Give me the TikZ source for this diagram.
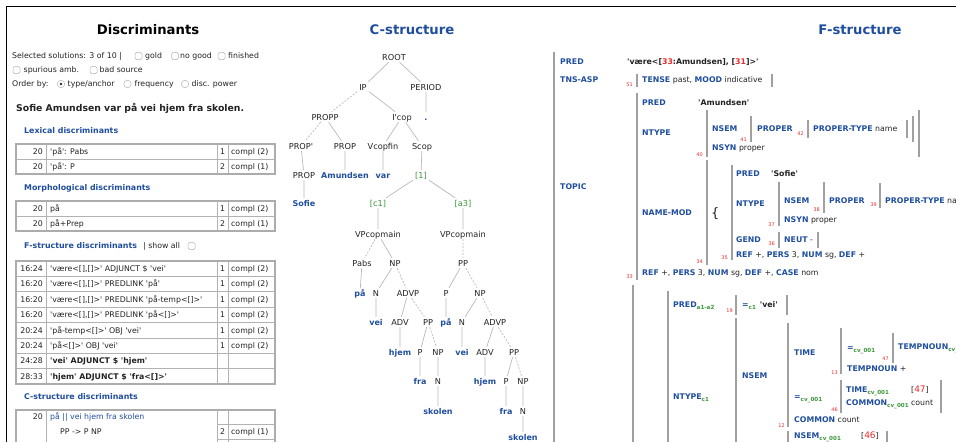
\documentclass[tikz,border=0pt]{standalone}
\usepackage{fontspec}
\usepackage{tikz}
\newfontfamily\dvsans{DejaVu Sans}
\definecolor{lfgblue}{HTML}{1F4E9E}
\definecolor{lfggreen}{HTML}{3A963A}
\definecolor{lfgred}{HTML}{E52B2B}
\definecolor{lfgbar}{HTML}{A0A0A0}
\definecolor{lfgink}{HTML}{222222}
\newcommand{\fa}[1]{{\bfseries\color{lfgblue}#1}}
\newcommand{\fv}[1]{{\bfseries\color{lfgink}#1}}
\newcommand{\fr}[1]{{\color{lfgred}#1}}
\newcommand{\fsub}[1]{\raisebox{-1.6pt}{\fontsize{5.6}{6}\selectfont\bfseries\color{lfggreen}#1}}
\newcommand{\discrow}[6]{%
    \node[num] (#1n) at (43,#2) {#3};
    \node[lbl] (#1t) at (50,#2) {#4};
    \node[lbl, anchor=center] (#1f) at (222.5,#2) {#5};
    \node[lbl] (#1c) at (231,#2) {#6};}
\tikzset{
    lbl/.style={anchor=west, inner sep=0pt, text height=5.6pt, text depth=0pt, text=lfgink, font=\dvsans\fontsize{7.8}{9}\selectfont},
    num/.style={lbl, anchor=east},
    attr/.style={lbl, text=lfgblue, font=\dvsans\bfseries\fontsize{7.8}{9}\selectfont},
    head/.style={lbl, text=lfgblue, font=\dvsans\bfseries\fontsize{7.9}{9}\selectfont},
    title/.style={inner sep=0pt, font=\dvsans\bfseries\fontsize{13.2}{15}\selectfont},
    fid/.style={anchor=base east, inner sep=0pt, text=lfgred, font=\dvsans\fontsize{5}{6}\selectfont},
    fbar/.style={draw=lfgbar, line width=1.3pt},
    tline/.style={draw=gray!60, line width=0.8pt},
    tframe/.style={draw=gray!65, line width=1.4pt},
    chk/.style={draw=gray!60, rounded corners=1.5pt, line width=0.5pt, minimum size=7pt, inner sep=0pt},
    radio/.style={circle, draw=gray!60, line width=0.5pt, minimum size=7.5pt, inner sep=0pt},
    cnode/.style={inner sep=2pt, text height=6pt, text depth=0pt, text=lfgink, font=\dvsans\fontsize{8.2}{10}\selectfont},
    cword/.style={cnode, text=lfgblue, font=\dvsans\bfseries\fontsize{8}{10}\selectfont},
    cidx/.style={cnode, text=lfggreen},
    edge/.style={draw=gray!55, line width=0.7pt},
    dedge/.style={edge, dash pattern=on 2pt off 1.5pt},
}

\begin{document}
\begin{tikzpicture}[x=1pt, y=-1pt]
    \useasboundingbox (0,0) rectangle (956,442);
    \clip (0,0) rectangle (956,442);
    \draw[line width=1.5pt] (6.5,442) -- (6.5,6.5) -- (956,6.5);

    % discriminants
    \node[title] (dtitle) at (148,30) {Discriminants};
    \node[lbl] (selsol) at (12,56) {Selected solutions: 3 of 10 |};
    \node[chk] (cgold) at (138.5,56) {};
    \node[lbl] (tgold) at (145,56) {gold};
    \node[chk] (cnogood) at (175,56) {};
    \node[lbl] (tnogood) at (180,56) {no good};
    \node[chk] (cfin) at (221.5,56) {};
    \node[lbl] (tfin) at (228,56) {finished};
    \node[chk] (cspur) at (16.5,70) {};
    \node[lbl] (tspur) at (23.5,70) {spurious amb.};
    \node[chk] (cbad) at (93.5,70) {};
    \node[lbl] (tbad) at (99.5,70) {bad source};
    \node[lbl] (order) at (12,84) {Order by:};
    \node[radio] (rtype) at (61,84) {};
    \fill[lfgink] (rtype) circle (1.3pt);
    \node[lbl] (ttype) at (67.5,84) {type/anchor};
    \node[radio] (rfreq) at (127.5,84) {};
    \node[lbl] (tfreq) at (134.5,84) {frequency};
    \node[radio] (rdisc) at (185,84) {};
    \node[lbl] (tdisc) at (191.5,84) {disc. power};
    \node[lbl, text height=6.8pt, font=\dvsans\bfseries\fontsize{9.3}{11}\selectfont] (sent) at (16,108) {Sofie Amundsen var på vei hjem fra skolen.};

    \node[head] (hlex) at (24,131) {Lexical discriminants};
    \draw[tline] (16,159) -- (275,159) (46,144) -- (46,174) (217,144) -- (217,174) (228,144) -- (228,174);
    \draw[tframe] (16,144) rectangle (275,174);
    \discrow{lexa}{151.5}{20}{'på': Pabs}{1}{compl (2)}
    \discrow{lexb}{166.5}{20}{'på': P}{2}{compl (1)}

    \node[head] (hmorph) at (24,188) {Morphological discriminants};
    \draw[tline] (16,216) -- (275,216) (46,201) -- (46,231) (217,201) -- (217,231) (228,201) -- (228,231);
    \draw[tframe] (16,201) rectangle (275,231);
    \discrow{moa}{208.5}{20}{på}{1}{compl (2)}
    \discrow{mob}{223.5}{20}{på+Prep}{2}{compl (1)}

    \node[head] (hfs) at (24,246) {F-structure discriminants};
    \node[lbl] (showall) at (143,246) {| show all};
    \node[chk] (cshow) at (191.5,246) {};
    \draw[tline] (16,276.4) -- (275,276.4) (16,291.8) -- (275,291.8) (16,307.1) -- (275,307.1)
        (16,322.5) -- (275,322.5) (16,337.9) -- (275,337.9) (16,353.2) -- (275,353.2) (16,368.6) -- (275,368.6)
        (46,261) -- (46,384) (217,261) -- (217,384) (228,261) -- (228,384);
    \draw[tframe] (16,261) rectangle (275,384);
    \discrow{fsa}{268.7}{16:24}{'være<[],[]>' ADJUNCT \$ 'vei'}{1}{compl (2)}
    \discrow{fsb}{284.1}{16:20}{'være<[],[]>' PREDLINK 'på'}{1}{compl (2)}
    \discrow{fsc}{299.4}{16:20}{'være<[],[]>' PREDLINK 'på-temp<[]>'}{1}{compl (2)}
    \discrow{fsd}{314.8}{16:20}{'være<[],[]>' PREDLINK 'på<[]>'}{1}{compl (2)}
    \discrow{fse}{330.2}{20:24}{'på-temp<[]>' OBJ 'vei'}{1}{compl (2)}
    \discrow{fsf}{345.6}{20:24}{'på<[]>' OBJ 'vei'}{1}{compl (2)}
    \discrow{fsg}{360.9}{24:28}{\textbf{'vei' ADJUNCT \$ 'hjem'}}{}{}
    \discrow{fsh}{376.3}{28:33}{\textbf{'hjem' ADJUNCT \$ 'fra<[]>'}}{}{}

    \node[head] (hcs) at (24,397) {C-structure discriminants};
    \draw[tline] (46,410) -- (46,442) (217,410) -- (217,442) (228,410) -- (228,442)
        (217,424.5) -- (275,424.5) (217,439.5) -- (275,439.5);
    \draw[tframe] (16,442) -- (16,410) -- (275,410) -- (275,442);
    \node[num] (csn) at (43,417) {20};
    \node[lbl, text=lfgblue] (cst) at (50,417) {på || vei hjem fra skolen};
    \node[lbl] (csr) at (60,432) {PP -> P NP};
    \node[lbl, anchor=center] (csf) at (222.5,432) {2};
    \node[lbl] (csc) at (231,432) {compl (1)};

    % c-structure
    \node[title, text=lfgblue] (ctitle) at (412,30) {C-structure};
    \node[cnode] (root) at (394,57) {ROOT};
    \node[cnode] (ip) at (363,87) {IP};
    \node[cnode] (period) at (426,87) {PERIOD};
    \node[cnode] (propp) at (325,117) {PROPP};
    \node[cnode] (icop) at (402,117) {I'cop};
    \node[cword] (dot) at (426,117) {.};
    \node[cnode] (propa) at (301,146) {PROP'};
    \node[cnode] (prop) at (345,146) {PROP};
    \node[cnode] (vcop) at (383,146) {Vcopfin};
    \node[cnode] (scop) at (422,146) {Scop};
    \node[cnode] (propb) at (304,175) {PROP};
    \node[cword] (amund) at (345,175) {Amundsen};
    \node[cword] (var) at (383,175) {var};
    \node[cidx] (one) at (421,175) {[1]};
    \node[cword] (sofie) at (304,203) {Sofie};
    \node[cidx] (ca) at (378,203) {[c1]};
    \node[cidx] (aa) at (463,203) {[a3]};
    \node[cnode] (vpc) at (378,234) {VPcopmain};
    \node[cnode] (vpa) at (463,234) {VPcopmain};
    \node[cnode] (pabs) at (362,263) {Pabs};
    \node[cnode] (npc) at (395,263) {NP};
    \node[cnode] (ppa) at (463,263) {PP};
    \node[cword] (paac) at (360,293) {på};
    \node[cnode] (nc) at (376,293) {N};
    \node[cnode] (advpc) at (408,293) {ADVP};
    \node[cnode] (pa) at (446,293) {P};
    \node[cnode] (npa) at (480,293) {NP};
    \node[cword] (veic) at (376,322) {vei};
    \node[cnode] (advc) at (400,322) {ADV};
    \node[cnode] (ppc) at (428,322) {PP};
    \node[cword] (paaa) at (446,322) {på};
    \node[cnode] (na) at (462,322) {N};
    \node[cnode] (advpa) at (495,322) {ADVP};
    \node[cword] (hjemc) at (400,352) {hjem};
    \node[cnode] (pc) at (420,352) {P};
    \node[cnode] (npcb) at (438,352) {NP};
    \node[cword] (veia) at (462,352) {vei};
    \node[cnode] (adva) at (485,352) {ADV};
    \node[cnode] (ppab) at (514,352) {PP};
    \node[cword] (frac) at (420,381) {fra};
    \node[cnode] (ncb) at (438,381) {N};
    \node[cword] (hjema) at (485,381) {hjem};
    \node[cnode] (pab) at (506,381) {P};
    \node[cnode] (npab) at (523,381) {NP};
    \node[cword] (skolenc) at (438,411) {skolen};
    \node[cword] (fraa) at (506,411) {fra};
    \node[cnode] (nab) at (523,411) {N};
    \node[cword] (skolena) at (523,437) {skolen};

    \draw[edge] (root) -- (ip) (root) -- (period) (ip) -- (icop) (period) -- (dot) (propp) -- (prop)
        (icop) -- (vcop) (icop) -- (scop) (propa) -- (propb) (prop) -- (amund) (vcop) -- (var)
        (scop) -- (one) (propb) -- (sofie) (one) -- (ca) (one) -- (aa) (ca) -- (vpc) (aa) -- (vpa);
    \draw[edge] (vpc) -- (npc) (pabs) -- (paac) (npc) -- (nc) (ppa) -- (pa) (nc) -- (veic)
        (advpc) -- (advc) (pa) -- (paaa) (npa) -- (na) (advc) -- (hjemc) (ppc) -- (pc)
        (na) -- (veia) (advpa) -- (adva) (pc) -- (frac) (npcb) -- (ncb) (adva) -- (hjema)
        (ppab) -- (pab) (ncb) -- (skolenc) (pab) -- (fraa) (npab) -- (nab) (nab) -- (skolena);
    \draw[dedge] (ip) -- (propp) (propp) -- (propa) (vpc) -- (pabs) (vpa) -- (ppa) (npc) -- (advpc)
        (ppa) -- (npa) (advpc) -- (ppc) (npa) -- (advpa) (ppc) -- (npcb) (advpa) -- (ppab) (ppab) -- (npab);

    % f-structure
    \node[title, text=lfgblue] (ftitle) at (860,30) {F-structure};
    \draw[fbar] (554,52) -- (554,442);
    \node[attr] (fpred) at (560,62) {PRED};
    \node[lbl] (fpredv) at (627,62) {\fv{'være<[\fr{33}:Amundsen], [\fr{31}]>'}};
    \node[attr] (ftns) at (560,80) {TNS-ASP};
    \node[fid] (id51) at (633,86) {51};
    \draw[fbar] (637,74) -- (637,87) (772,74) -- (772,87);
    \node[lbl] (ftense) at (642,80) {\fa{TENSE} past, \fa{MOOD} indicative};
    \node[attr] (ftopic) at (560,187) {TOPIC};
    \draw[fbar] (637,93) -- (637,280);
    \node[fid] (id33) at (633,278) {33};
    \node[attr] (tpred) at (642,103) {PRED};
    \node[lbl] (tpredv) at (698,103) {\fv{'Amundsen'}};
    \node[attr] (tntype) at (642,133) {NTYPE};
    \draw[fbar] (707,110) -- (707,157) (919,110) -- (919,157);
    \node[fid] (id40) at (703,156) {40};
    \node[attr] (tnsem) at (712,129) {NSEM};
    \draw[fbar] (751,116) -- (751,142) (913,116) -- (913,142);
    \node[fid] (id41) at (747,141) {41};
    \node[attr] (tproper) at (757,129) {PROPER};
    \node[fid] (id42) at (804,135) {42};
    \draw[fbar] (808,120) -- (808,138) (907,120) -- (907,138);
    \node[lbl] (tptype) at (813,129) {\fa{PROPER-TYPE} name};
    \node[lbl] (tnsyn) at (712,148) {\fa{NSYN} proper};
    \node[attr] (tnmod) at (642,213) {NAME-MOD};
    \draw[fbar] (707,160) -- (707,265);
    \node[fid] (id34) at (703,263) {34};
    \node[lbl, text height=9pt, font=\dvsans\fontsize{13}{14}\selectfont] (brace) at (711,213) {\{};
    \draw[fbar] (732,165) -- (732,260);
    \node[fid] (id35) at (728,259) {35};
    \node[attr] (spred) at (736,174) {PRED};
    \node[lbl] (spredv) at (771,174) {\fv{'Sofie'}};
    \node[attr] (sntype) at (736,204) {NTYPE};
    \draw[fbar] (779,182) -- (779,226);
    \node[fid] (id37) at (775,226) {37};
    \node[attr] (snsem) at (784,201) {NSEM};
    \draw[fbar] (824,182) -- (824,213);
    \node[fid] (id38) at (820,211) {38};
    \node[attr] (sproper) at (829,201) {PROPER};
    \node[fid] (id39) at (877,206) {39};
    \draw[fbar] (880,183) -- (880,208);
    \node[lbl] (sptype) at (885,201) {\fa{PROPER-TYPE} name};
    \node[lbl] (snsyn) at (784,220) {\fa{NSYN} proper};
    \node[attr] (sgend) at (736,240) {GEND};
    \node[fid] (id36) at (775,245) {36};
    \draw[fbar] (779,232) -- (779,248) (818,232) -- (818,248);
    \node[lbl] (sneut) at (784,240) {\fa{NEUT} -};
    \node[lbl] (sref) at (736,255) {\fa{REF} +, \fa{PERS} 3, \fa{NUM} sg, \fa{DEF} +};
    \node[lbl] (tref) at (642,273) {\fa{REF} +, \fa{PERS} 3, \fa{NUM} sg, \fa{DEF} +, \fa{CASE} nom};

    \draw[fbar] (633,285) -- (633,442) (668,291) -- (668,442);
    \node[attr] (apred) at (673,305) {PRED\fsub{a1-a2}};
    \node[fid] (id19) at (733,312) {19};
    \draw[fbar] (736,295) -- (736,315) (787,295) -- (787,315);
    \node[lbl] (aeq) at (742,305) {\fa{=\fsub{c1}}\hspace{4pt}\fv{'vei'}};
    \node[attr] (antype) at (673,397) {NTYPE\fsub{c1}};
    \draw[fbar] (736,318) -- (736,442);
    \node[attr] (ansem) at (742,376) {NSEM};
    \draw[fbar] (788,323) -- (788,427);
    \node[fid] (id12) at (785,427) {12};
    \node[attr] (atime) at (794,353) {TIME};
    \draw[fbar] (841,328) -- (841,374);
    \node[fid] (id13) at (838,374) {13};
    \node[attr] (aeqcv) at (847,348) {=\fsub{cv\_001}};
    \node[fid] (id47) at (889,360) {47};
    \draw[fbar] (893,333) -- (893,363);
    \node[attr] (atemp) at (898,347) {TEMPNOUN\fsub{cv\_001}};
    \node[lbl] (atempp) at (847,369) {\fa{TEMPNOUN} +};
    \node[attr] (aeqcvb) at (794,397) {=\fsub{cv\_001}};
    \node[fid] (id46) at (838,411) {46};
    \draw[fbar] (841,380) -- (841,413) (941,380) -- (941,413);
    \node[attr] (atimecv) at (846,390) {TIME\fsub{cv\_001}};
    \node[lbl] (aref47) at (911,390) {[{\fontsize{9}{10}\selectfont\fr{47}}]};
    \node[lbl] (acommcv) at (846,403) {\fa{COMMON\fsub{cv\_001}} count};
    \node[lbl] (acomm) at (794,420) {\fa{COMMON} count};
    \draw[fbar] (788,431) -- (788,442) (887,431) -- (887,442);
    \node[attr] (ansemb) at (794,436) {NSEM\fsub{cv\_001}};
    \node[lbl] (aref46) at (861,436) {[{\fontsize{9}{10}\selectfont\fr{46}}]};
\end{tikzpicture}
\end{document}
